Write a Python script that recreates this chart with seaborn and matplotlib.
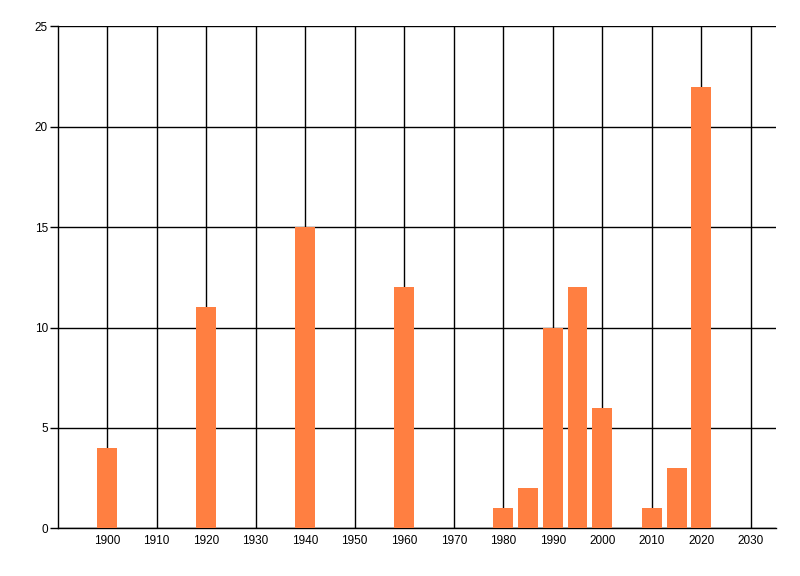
import pandas as pd
import matplotlib
matplotlib.use("Agg")
import matplotlib.pyplot as plt
import seaborn as sns

# values
years = [1900, 1920, 1940, 1960, 1980, 1985, 1990, 1995, 2000, 2010, 2015, 2020]
counts = [4, 11, 15, 12, 1, 2, 10, 12, 6, 1, 3, 22]
x_ticks = list(range(1900, 2031, 10))
y_ticks = [0, 5, 10, 15, 20, 25]

df = pd.DataFrame({"year": years, "count": counts})

sns.set_style("white")
plt.rcParams["font.family"] = ["Liberation Sans", "DejaVu Sans"]

fig = plt.figure(figsize=(8, 5.76), dpi=100)
ax = fig.add_axes([0.0719, 0.0828, 0.8977, 0.8715])

sns.barplot(data=df, x="year", y="count", native_scale=True, width=0.8,
            color="#FF7F41", saturation=1, edgecolor="none", zorder=3, ax=ax)

ax.set_xlim(1890, 2035)
ax.set_ylim(0, 25)
ax.set_xticks(x_ticks)
ax.set_yticks(y_ticks)
ax.set_xlabel("")
ax.set_ylabel("")

ax.grid(True, color="black", linewidth=1.0, zorder=0)
ax.set_axisbelow(True)
for side in ["top", "right"]:
    ax.spines[side].set_visible(False)
for side in ["left", "bottom"]:
    ax.spines[side].set_color("black")
    ax.spines[side].set_linewidth(1.0)

ax.tick_params(axis="y", length=6, width=1.0, pad=1, labelsize=8.5, colors="black", left=True)
ax.tick_params(axis="x", length=0, pad=5, labelsize=8.5, colors="black")

fig.savefig("out.png", dpi=100)
